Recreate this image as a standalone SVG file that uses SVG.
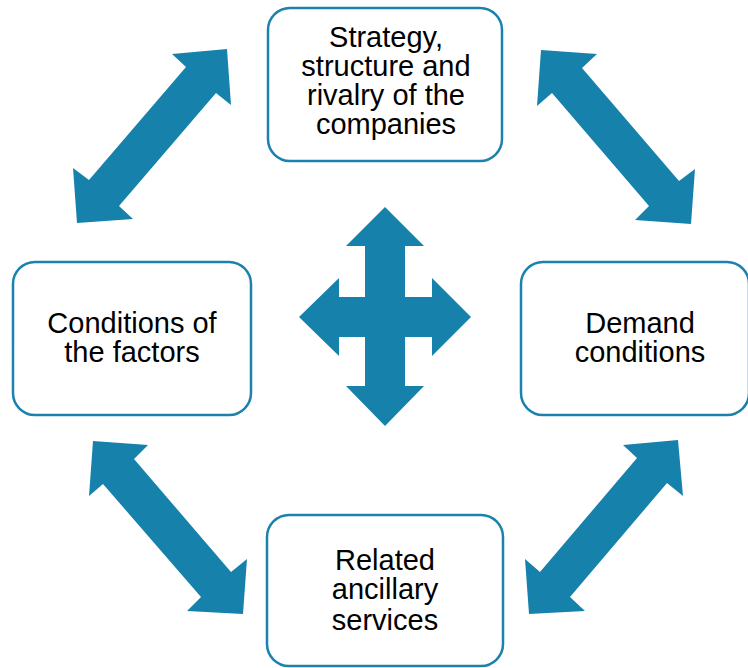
<svg xmlns="http://www.w3.org/2000/svg" width="748" height="668" viewBox="0 0 748 668">
<style>
.box{fill:#ffffff;stroke:#1a82ad;stroke-width:2.5}
.lbl{font-family:"Liberation Sans",Arial,sans-serif;font-size:29px;fill:#000000;text-anchor:middle}
.arr{fill:#1682ac}
</style>
<rect width="748" height="668" fill="#ffffff"/>
<g id="connectors">
<polygon class="arr" points="227,49 172,54 186,67 89,180 73,168 77,223 133,219 119,206 216,93 231,105"/>
<polygon class="arr" points="541,50 597,54 582,68 679,181 695,169 691,224 635,220 649,206 552,93 537,106"/>
<polygon class="arr" points="93,441 148,445 134,459 231,572 247,559 243,614 187,611 201,597 103,484 89,496"/>
<polygon class="arr" points="678,440 623,445 637,458 540,572 525,559 529,614 585,611 570,597 667,483 683,496"/>
<polygon id="center-cross" class="arr" points="385,207 424,246 405,246 405,297 432,297 432,278 471,317 432,356 432,337 405,337 405,386 424,386 385,426 346,386 365,386 365,337 339,337 339,356 299,317 339,278 339,297 365,297 365,246 346,246"/>
</g>
<g id="node-strategy">
<rect class="box" x="268" y="8" width="234" height="153" rx="22"/>
<text class="lbl" x="386" y="47">Strategy,</text>
<text class="lbl" x="386" y="76">structure and</text>
<text class="lbl" x="386" y="105">rivalry of the</text>
<text class="lbl" x="386" y="134">companies</text>
</g>
<g id="node-factors">
<rect class="box" x="13" y="262" width="238" height="153" rx="22"/>
<text class="lbl" x="132" y="333">Conditions of</text>
<text class="lbl" x="132" y="362">the factors</text>
</g>
<g id="node-demand">
<rect class="box" x="521" y="262" width="228" height="153" rx="22"/>
<text class="lbl" x="640" y="333">Demand</text>
<text class="lbl" x="640" y="362">conditions</text>
</g>
<g id="node-related">
<rect class="box" x="267" y="515" width="236" height="151" rx="22"/>
<text class="lbl" x="385" y="570">Related</text>
<text class="lbl" x="385" y="599">ancillary</text>
<text class="lbl" x="385" y="630">services</text>
</g>
</svg>
